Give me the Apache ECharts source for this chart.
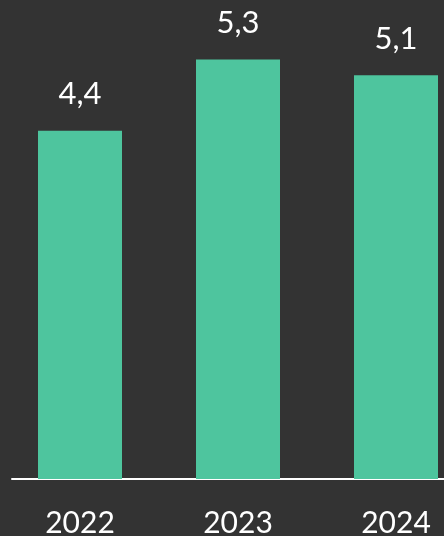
<!DOCTYPE html>
<html>
<head>
<meta charset="utf-8">
<script src="https://cdn.jsdelivr.net/npm/echarts@6/dist/echarts.min.js"></script>
<style>
  html, body { margin: 0; padding: 0; background: #333333; }
  #chart { width: 444px; height: 536px; }
</style>
</head>
<body>
<div id="chart"></div>
<script>
const years = ["2022", "2023", "2024"];
const values = [4.4, 5.3, 5.1];

const chart = echarts.init(document.getElementById("chart"));

chart.setOption({
  animation: false,
  backgroundColor: "#333333",
  grid: [
    // wider than the canvas: the last bar is cut by the right edge
    { left: 1, width: 474, top: 4, bottom: 57, outerBoundsMode: "none" },
    // only used for the white baseline, which starts a bit in from the left
    { left: 12, right: 0, top: 4, bottom: 57, outerBoundsMode: "none" },
  ],
  xAxis: [
    {
      type: "category",
      gridIndex: 0,
      data: years,
      axisLine: { show: false },
      axisTick: { show: false },
      axisLabel: {
        color: "#ffffff",
        fontFamily: "Lato",
        fontSize: 30,
        margin: 29,
      },
    },
    {
      type: "category",
      gridIndex: 1,
      data: years,
      axisLine: { lineStyle: { color: "#ffffff", width: 2 } },
      axisTick: { show: false },
      axisLabel: { show: false },
    },
  ],
  yAxis: [
    { type: "value", gridIndex: 0, min: 0, max: 6, show: false },
    { type: "value", gridIndex: 1, min: 0, max: 6, show: false },
  ],
  series: [
    {
      type: "bar",
      xAxisIndex: 0,
      yAxisIndex: 0,
      data: values,
      barWidth: 84,
      itemStyle: { color: "#4EC59E" },
      label: {
        show: true,
        position: "top",
        distance: 21,
        color: "#ffffff",
        fontFamily: "Lato",
        fontSize: 31,
        formatter: (p) => String(p.value).replace(".", ","),
      },
    },
  ],
});
</script>
</body>
</html>
